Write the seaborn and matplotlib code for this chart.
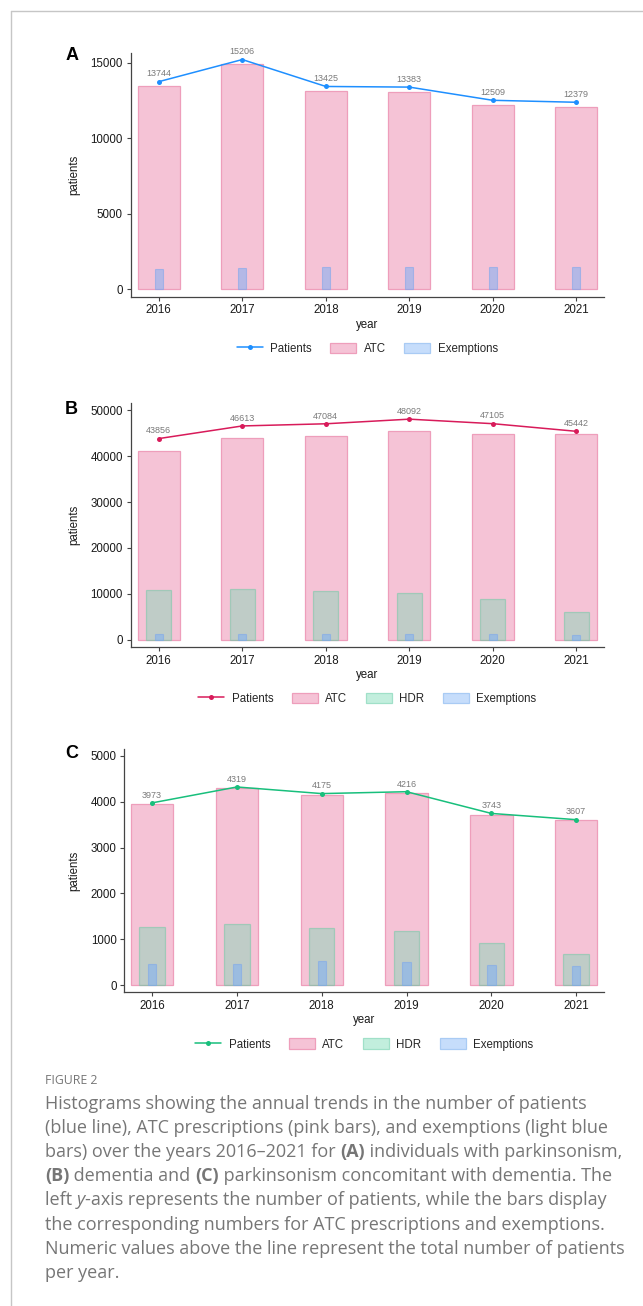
import numpy as np
import pandas as pd
import matplotlib
matplotlib.use("Agg")
import matplotlib.pyplot as plt
from matplotlib.lines import Line2D
from matplotlib.patches import Patch
import seaborn as sns

# ---- data -----------------------------------------------------------------
years = ["2016", "2017", "2018", "2019", "2020", "2021"]

# (A) parkinsonism
a_patients = [13744, 15206, 13425, 13383, 12509, 12379]
a_atc = [13440, 14910, 13130, 13080, 12200, 12070]
a_exempt = [1320, 1390, 1480, 1480, 1480, 1500]

# (B) dementia
b_patients = [43856, 46613, 47084, 48092, 47105, 45442]
b_atc = [41130, 43890, 44470, 45420, 44840, 44840]
b_hdr = [10760, 11120, 10610, 10250, 8870, 6030]
b_exempt = [1240, 1160, 1160, 1160, 1160, 1020]

# (C) parkinsonism with dementia
c_patients = [3973, 4319, 4175, 4216, 3743, 3607]
c_atc = [3940, 4290, 4145, 4185, 3710, 3600]
c_hdr = [1277, 1343, 1241, 1190, 922, 682]
c_exempt = [464, 464, 523, 501, 443, 421]

a_yticks = [0, 5000, 10000, 15000]
b_yticks = [0, 10000, 20000, 30000, 40000, 50000]
c_yticks = [0, 1000, 2000, 3000, 4000, 5000]

# ---- style ----------------------------------------------------------------
sns.set_theme(style="ticks")
plt.rcParams["font.family"] = ["Liberation Sans", "DejaVu Sans"]

W, H = 643, 1306
fig = plt.figure(figsize=(W / 100, H / 100), dpi=100)
fig.patch.set_facecolor("white")

ATC_FACE, ATC_EDGE = "#F5C3D6", "#EE9EBB"
HDR_COLOR, HDR_EDGE = "#7FD8B5", "#5CCB9F"
EXM_COLOR, EXM_EDGE = "#7FB0F5", "#7AA6EE"
HDR_LEG_FACE, HDR_LEG_EDGE = "#C2EEDD", "#A0E0C8"
EXM_LEG_FACE, EXM_LEG_EDGE = "#C6DDFB", "#A9CBF4"
SPINE = "#444444"
FS = 8.3


def add_axes_px(l, t, r, b):
    return fig.add_axes([l / W, 1 - b / H, (r - l) / W, (b - t) / H])


def panel(ax, letter, letter_xy, patients, atc, hdr, exempt, line_color,
          ylim, yticks, xlim, ylabel_px, legend_y):
    df = pd.DataFrame({"year": years, "atc": atc, "exempt": exempt})
    sns.barplot(data=df, x="year", y="atc", width=0.5, color=ATC_FACE,
                saturation=1, edgecolor=ATC_EDGE, linewidth=0.9,
                errorbar=None, ax=ax)
    if hdr is not None:
        df["hdr"] = hdr
        sns.barplot(data=df, x="year", y="hdr", width=0.3, color=HDR_COLOR,
                    saturation=1, alpha=0.45, edgecolor=HDR_EDGE, linewidth=0.9,
                    errorbar=None, ax=ax)
    sns.barplot(data=df, x="year", y="exempt", width=0.1, color=EXM_COLOR,
                saturation=1, alpha=0.55, edgecolor=EXM_EDGE, linewidth=0.8,
                errorbar=None, ax=ax)

    pos = np.arange(len(years))
    sns.lineplot(x=pos, y=patients, color=line_color, marker="o",
                 markersize=3.6, markeredgewidth=0, linewidth=1.1,
                 legend=False, ax=ax)
    for i, v in enumerate(patients):
        ax.annotate(str(v), (pos[i], v), xytext=(0, 2.3),
                    textcoords="offset points", ha="center", va="bottom",
                    fontsize=6.5, color="#7a7a7a")

    ax.set_xlim(*xlim)
    ax.set_ylim(*ylim)
    ax.set_yticks(yticks)
    ax.set_yticklabels([str(t) for t in yticks])
    ax.set_xticks(pos)
    ax.set_xticklabels(years)
    sns.despine(ax=ax)
    for side in ("left", "bottom"):
        ax.spines[side].set_color(SPINE)
        ax.spines[side].set_linewidth(0.9)
    ax.tick_params(axis="both", length=3, width=0.8, color=SPINE,
                   labelsize=FS, labelcolor="#1a1a1a")
    ax.tick_params(axis="x", pad=2.5)
    ax.tick_params(axis="y", pad=2.5)

    ax.set_xlabel("year", fontsize=FS, color="#1a1a1a")
    ax.set_ylabel("patients", fontsize=FS, color="#1a1a1a")
    bbox = ax.get_position()
    ax.xaxis.set_label_coords(0.5, -0.115)
    ax.xaxis.label.set_va("center")
    ax.yaxis.set_label_coords((ylabel_px / W - bbox.x0) / bbox.width, 0.5)
    ax.yaxis.label.set_va("center")

    handles = [Line2D([0], [0], color=line_color, marker="o", markersize=3.6,
                      markeredgewidth=0, lw=1.1, label="Patients"),
               Patch(facecolor=ATC_FACE, edgecolor=ATC_EDGE, lw=0.9, label="ATC")]
    if hdr is not None:
        handles.append(Patch(facecolor=HDR_LEG_FACE, edgecolor=HDR_LEG_EDGE,
                             lw=0.9, label="HDR"))
    handles.append(Patch(facecolor=EXM_LEG_FACE, edgecolor=EXM_LEG_EDGE,
                         lw=0.9, label="Exemptions"))
    ax.legend(handles=handles, loc="center", bbox_to_anchor=(0.5, legend_y),
              ncol=len(handles), frameon=False, fontsize=FS,
              handlelength=2.25, handleheight=1.05, handletextpad=0.65,
              columnspacing=1.6)

    fig.text(letter_xy[0] / W, 1 - letter_xy[1] / H, letter, fontsize=13,
             weight="bold", ha="center", va="center", color="black")


ax_a = add_axes_px(130.5, 52.7, 604.2, 296.7)
panel(ax_a, "A", (71.7, 56), a_patients, a_atc, None, a_exempt, "#1E8FFF",
      (-490, 15660), a_yticks, (-0.339, 5.334), 74.6, -0.214)

ax_b = add_axes_px(130.5, 403.3, 604.2, 647)
panel(ax_b, "B", (71.7, 410), b_patients, b_atc, b_hdr, b_exempt, "#D81B5A",
      (-1590, 51550), b_yticks, (-0.339, 5.334), 74.6, -0.213)

ax_c = add_axes_px(124.2, 749, 604.2, 992.3)
panel(ax_c, "C", (71.7, 753), c_patients, c_atc, c_hdr, c_exempt, "#18BF7C",
      (-152, 5146), c_yticks, (-0.329, 5.33), 74.6, -0.215)

# ---- frame ----------------------------------------------------------------
frame_kw = dict(transform=fig.transFigure, color="#c6c6c6", lw=1.0)
fig.add_artist(Line2D([11 / W, 11 / W], [0, 1 - 11 / H], **frame_kw))
fig.add_artist(Line2D([11 / W, 1], [1 - 11 / H, 1 - 11 / H], **frame_kw))

# ---- caption --------------------------------------------------------------
CAP_FONT = ["Open Sans", "DejaVu Sans"]
CAP_COLOR = "#767676"
CAP_LEFT = 45
CAP_FIRST_WIDTH = 545  # width of the first caption line, px
CAP_LAST_BASELINE = 1278
CAP_STEP = 24.2

N, B, I = "normal", "bold", "italic"
caption = [
    [("Histograms showing the annual trends in the number of patients", N, N)],
    [("(blue line), ATC prescriptions (pink bars), and exemptions (light blue", N, N)],
    [("bars) over the years 2016\u20132021 for ", N, N), ("(A)", B, N),
     (" individuals with parkinsonism,", N, N)],
    [("(B)", B, N), (" dementia and ", N, N), ("(C)", B, N),
     (" parkinsonism concomitant with dementia. The", N, N)],
    [("left ", N, N), ("y", N, I),
     ("-axis represents the number of patients, while the bars display", N, N)],
    [("the corresponding numbers for ATC prescriptions and exemptions.", N, N)],
    [("Numeric values above the line represent the total number of patients", N, N)],
    [("per year.", N, N)],
]

fig.canvas.draw()
renderer = fig.canvas.get_renderer()

probe = fig.text(0, 0, caption[0][0][0], fontsize=10, family=CAP_FONT)
cap_size = 10 * CAP_FIRST_WIDTH / probe.get_window_extent(renderer).width
probe.remove()


def draw_runs(x_px, y_px, runs):
    x = x_px
    for text, weight, style in runs:
        t = fig.text(x / W, 1 - y_px / H, text, fontsize=cap_size,
                     family=CAP_FONT, weight=weight, style=style,
                     color=CAP_COLOR, ha="left", va="baseline")
        x += t.get_window_extent(renderer).width


first_baseline = CAP_LAST_BASELINE - (len(caption) - 1) * CAP_STEP
fig.text(CAP_LEFT / W, 1 - (first_baseline - 25) / H, "FIGURE 2",
         fontsize=8.8, family=CAP_FONT, color="#767676", ha="left",
         va="baseline")

for k, runs in enumerate(caption):
    draw_runs(CAP_LEFT, first_baseline + k * CAP_STEP, runs)

fig.savefig("out.png", dpi=100, facecolor="white")
